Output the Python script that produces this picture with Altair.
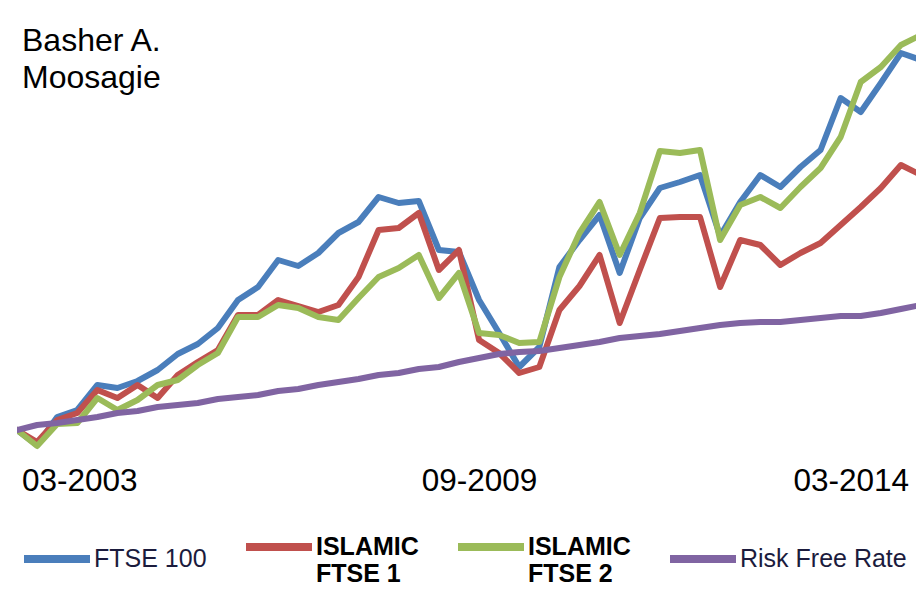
import json
import altair as alt
import pandas as pd

SERIES = ["FTSE 100", "ISLAMIC FTSE 1", "ISLAMIC FTSE 2", "Risk Free Rate"]
COLORS = ["#4A7EBB", "#C0504D", "#9BBB59", "#8064A2"]

FTSE100 = [100, 92.5, 106.5, 110, 122.5, 121, 124.5, 130, 138, 143, 151, 165, 171.5, 185,
           182, 188.5, 198.5, 204, 216.5, 213.5, 214.5, 190, 189, 165, 148.5, 131.5, 141.5,
           181.5, 195, 207.5, 178.5, 206, 221, 224, 227.5, 197, 214, 227.5, 221.5, 231.5,
           240, 266, 259, 273.5, 288.5, 285]
ISLAMIC1 = [100, 94, 105, 108.5, 120, 116, 122.5, 116, 127.5, 134, 140, 157.5, 157.5, 165,
            162, 159, 162.5, 176.5, 200, 201, 208.5, 180, 190, 145, 138.5, 128.5, 131.5,
            160, 172, 187.5, 153.5, 180, 206, 206.5, 206.5, 171.5, 195, 192.5, 182.5, 188.5,
            193.5, 202.5, 211.5, 221, 232.5, 227.5]
ISLAMIC2 = [100, 92, 103, 103.5, 116, 110, 115, 122.5, 125, 132.5, 138.5, 156.5, 156.5, 162.5,
            161, 156.5, 155, 166, 176.5, 181, 187.5, 166, 178.5, 148.5, 147.5, 143.5, 144,
            176.5, 198.5, 214, 187.5, 208.5, 239.5, 238.5, 240, 195, 212.5, 216.5, 211, 221.5,
            231, 246.5, 274, 281.5, 292.5, 297.5]
RISK_FREE = [100, 102.5, 103.5, 105, 106.5, 108.5, 109.5, 111.5, 112.5, 113.5, 115.5, 116.5,
             117.5, 119.5, 120.5, 122.5, 124, 125.5, 127.5, 128.5, 130.5, 131.5, 134, 136, 138,
             139, 139.5, 141, 142.5, 144, 146, 147, 148, 149.5, 151, 152.5, 153.5, 154, 154,
             155, 156, 157, 157, 158.5, 160.5, 162.5]

TICK_LABELS = ["03-2003", "09-2009", "03-2014"]
TICK_INDEX = [3.1, 23.0, 41.5]
TITLE_LINES = ["Basher A.", "Moosagie"]

rows = []
for name, vals in zip(SERIES, [FTSE100, ISLAMIC1, ISLAMIC2, RISK_FREE]):
    for i, v in enumerate(vals):
        rows.append({"period": i, "series": name, "value": v})
df = pd.DataFrame(rows)

label_expr = f"{json.dumps(TICK_LABELS)}[indexof({json.dumps(TICK_INDEX)}, datum.value)]"
is_islamic = "indexof(datum.label, 'ISLAMIC') == 0"

legend = alt.Legend(
    title=None,
    orient="none",
    legendX=3,
    legendY=482,
    direction="horizontal",
    columns=4,
    symbolType="stroke",
    symbolSize=4356,
    symbolStrokeWidth=8,
    symbolOpacity=1,
    labelOffset=0,
    columnPadding=23,
    padding=0,
    labelLimit=400,
    labelBaseline="middle",
    labelFontSize=25,
    labelFont="Liberation Sans",
    labelExpr=f"{is_islamic} ? ['ISLAMIC', substring(datum.label, 8)] : datum.label",
    labelFontWeight=alt.ExprRef(f"{is_islamic} ? 'bold' : 'normal'"),
    labelColor=alt.ExprRef(f"{is_islamic} ? '#000000' : '#1b1b3d'"),
)

chart = (
    alt.Chart(df)
    .mark_line(strokeWidth=6, strokeJoin="round", strokeCap="round", clip=True)
    .encode(
        x=alt.X(
            "period:Q",
            scale=alt.Scale(domain=[0, 44.75], nice=False, zero=False),
            axis=alt.Axis(
                values=TICK_INDEX,
                labelExpr=label_expr,
                title=None,
                domain=False,
                ticks=False,
                tickSize=0,
                grid=False,
                labelFont="Liberation Sans",
                labelFontSize=31.5,
                labelColor="#000000",
                labelPadding=34,
                labelBaseline="alphabetic",
                labelFlush=False,
                labelOverlap=False,
            ),
        ),
        y=alt.Y("value:Q", scale=alt.Scale(domain=[87, 301], nice=False, zero=False), axis=None),
        color=alt.Color("series:N", scale=alt.Scale(domain=SERIES, range=COLORS), legend=legend),
        detail="series:N",
    )
    .properties(
        width=899,
        height=428,
        background="#ffffff",
        autosize=alt.AutoSizeParams(type="none"),
        padding={"left": 9, "top": 20, "right": 0, "bottom": 138},
        title=alt.TitleParams(
            TITLE_LINES,
            anchor="start",
            frame="group",
            orient="top",
            fontSize=32,
            font="Liberation Sans",
            fontWeight="normal",
            color="#000000",
            baseline="top",
            offset=-67,
            dx=5,
            lineHeight=37,
        ),
    )
    .configure_view(stroke="transparent", strokeWidth=0)
)

chart.save("out.html", embed_options={"renderer": "svg", "actions": False})
